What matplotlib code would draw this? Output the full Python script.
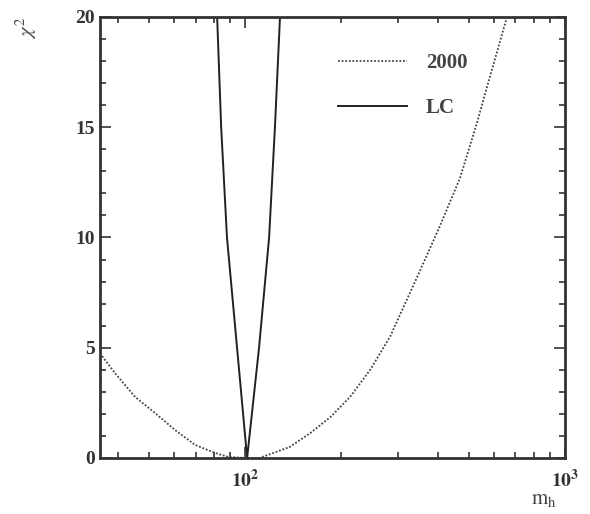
import matplotlib
matplotlib.use("Agg")
import matplotlib.pyplot as plt
from matplotlib.ticker import FixedLocator, NullFormatter, MultipleLocator

plt.rcParams['font.family'] = ['Liberation Serif', 'DejaVu Serif']
plt.rcParams['mathtext.fontset'] = 'stix'

# "2000" fit: chi^2 vs m_h
m_2000 = [35.2, 39.2, 45.3, 52.3, 60.4, 69.8, 80.6, 88.5, 100, 111, 138, 160,
          185, 213, 246, 284, 345, 406, 470, 531, 583, 659]
chi2_2000 = [4.75, 3.85, 2.77, 2.04, 1.27, 0.59, 0.23, 0.05, 0.0, 0.0, 0.5, 1.13,
             1.86, 2.77, 3.99, 5.5, 8.2, 10.5, 12.7, 15.2, 17.3, 20.0]

# LC fit
m_lc = [81.8, 84.2, 87.8, 94.4, 101.5, 110.6, 118.9, 124.0, 128.6]
chi2_lc = [20, 15, 10, 5, 0, 5, 10, 15, 20]

fig = plt.figure(figsize=(5.9, 5.14), dpi=100)
ax = fig.add_axes([0.1695, 0.109, 0.788, 0.858])

ax.plot(m_2000, chi2_2000, color='#444444', lw=1.3, linestyle=(0, (1, 1)), label='2000')
ax.plot(m_lc, chi2_lc, color='#222222', lw=1.4, label='LC')

ax.set_xscale('log')
ax.set_xlim(35.2, 1000)
ax.set_ylim(0, 20)

ax.xaxis.set_major_locator(FixedLocator([100, 1000]))
ax.set_xticklabels(['$\\mathbf{10^{2}}$', '$\\mathbf{10^{3}}$'])
ax.xaxis.set_minor_locator(FixedLocator([40, 50, 60, 70, 80, 90, 200, 300, 400, 500, 600, 700, 800, 900]))
ax.xaxis.set_minor_formatter(NullFormatter())
ax.yaxis.set_major_locator(MultipleLocator(5))
ax.yaxis.set_minor_locator(MultipleLocator(1))

ax.tick_params(which='both', direction='in', top=True, right=True, colors='#333333',
               labelcolor='#333333', labelsize=14, width=1.2)
ax.tick_params(which='major', length=8)
ax.tick_params(which='minor', length=4)
for lab in ax.get_yticklabels():
    lab.set_fontweight('bold')
ax.tick_params(axis='x', pad=8)

for s in ax.spines.values():
    s.set_linewidth(2)
    s.set_color('#333333')

fig.text(0.045, 0.945, '$\\chi^2$', rotation=90, fontsize=15, color='#444444',
         ha='center', va='center')
fig.text(0.922, 0.028, '$\\mathrm{m_h}$', fontsize=15, color='#444444',
         ha='center', va='center')

leg = ax.legend(loc='upper right', bbox_to_anchor=(0.83, 0.96), frameon=False,
                handlelength=3.3, handletextpad=0.9, labelspacing=1.2,
                prop={'family': 'Liberation Serif', 'weight': 'bold', 'size': 15})
for t in leg.get_texts():
    t.set_color('#444444')

fig.savefig('out.png', dpi=100)
